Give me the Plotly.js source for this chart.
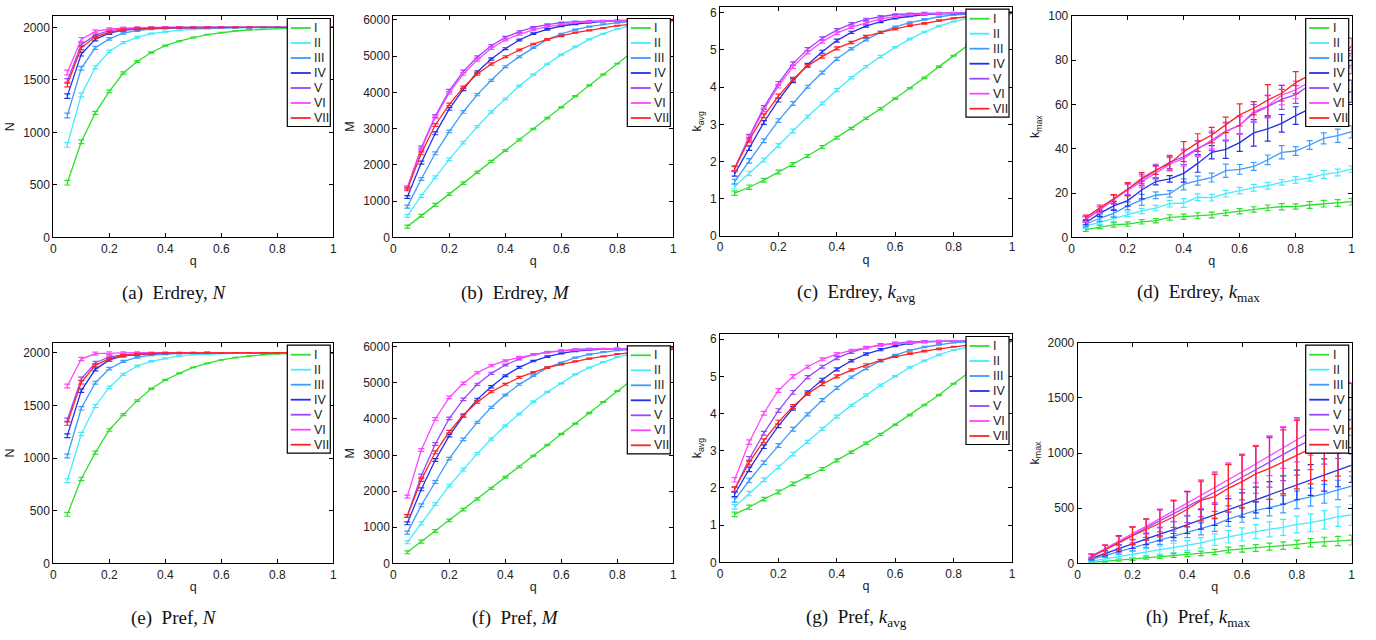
<!DOCTYPE html>
<html>
<head>
<meta charset="utf-8">
<script src="https://cdn.plot.ly/plotly-3.0.1.min.js"></script>
<style>html,body{margin:0;padding:0;background:#fff}#chart{width:1376px;height:640px}</style>
</head>
<body>
<div id="chart"></div>
<script>
// ---------------- DATA ----------------
const q = [0.05,0.1,0.15,0.2,0.25,0.3,0.35,0.4,0.45,0.5,0.55,0.6,0.65,0.7,0.75,0.8,0.85,0.9,0.95,1.0];
const seriesNames = ['I','II','III','IV','V','VI','VII'];
const seriesColors = ['#2ee02e','#45eaff','#3d9cff','#2230ea','#9a45ff','#ff45ff','#ff2424'];

// (a) Erdrey, N
const erdreyN = [
  [520,910,1185,1390,1565,1675,1760,1825,1868,1903,1930,1950,1965,1975,1983,1989,1993,1996,1998,2000],
  [880,1355,1620,1770,1855,1905,1940,1960,1973,1982,1988,1992,1995,1997,1998,1999,2000,2000,2000,2000],
  [1160,1610,1805,1890,1945,1970,1983,1990,1994,1996,1998,1999,2000,2000,2000,2000,2000,2000,2000,2000],
  [1345,1745,1885,1945,1973,1986,1993,1996,1998,1999,2000,2000,2000,2000,2000,2000,2000,2000,2000,2000],
  [1490,1835,1925,1968,1985,1993,1997,1999,2000,2000,2000,2000,2000,2000,2000,2000,2000,2000,2000,2000],
  [1570,1885,1962,1984,1993,1997,1999,2000,2000,2000,2000,2000,2000,2000,2000,2000,2000,2000,2000,2000],
  [1455,1805,1910,1952,1975,1987,1993,1996,1998,1999,2000,2000,2000,2000,2000,2000,2000,2000,2000,2000]
];
const errErdreyN = [22,18,14,12,10,8,6,5,4,3,3,2,2,2,1,1,1,1,1,1];

// (b) Erdrey, M
const erdreyM = [
  [295,595,895,1195,1495,1795,2095,2395,2690,2990,3290,3590,3895,4195,4495,4795,5095,5395,5695,5995],
  [589,1141,1656,2153,2613,3055,3460,3828,4178,4491,4785,5043,5264,5466,5622,5751,5850,5920,5965,5990],
  [847,1610,2319,2926,3460,3938,4334,4711,4988,5236,5466,5613,5733,5816,5880,5926,5955,5975,5988,5995],
  [1113,2061,2871,3543,4086,4564,4923,5208,5448,5622,5742,5834,5889,5935,5960,5975,5985,5992,5996,6000],
  [1371,2475,3350,4049,4583,4978,5291,5521,5678,5797,5871,5926,5954,5970,5980,5988,5993,5996,5998,6000],
  [1353,2429,3313,3994,4509,4895,5218,5448,5604,5724,5816,5880,5926,5954,5970,5982,5990,5995,5998,6000],
  [1325,2319,3101,3672,4141,4509,4785,4988,5172,5337,5466,5558,5650,5714,5779,5843,5880,5920,5960,6000]
];
const errErdreyM = [40,40,40,35,35,30,30,25,25,20,20,15,15,15,10,10,10,10,10,10];

// (c) Erdrey, k_avg
const erdreyKavg = [
  [1.15,1.31,1.50,1.72,1.92,2.15,2.39,2.64,2.89,3.16,3.42,3.69,3.97,4.25,4.55,4.84,5.13,5.43,5.72,6.0],
  [1.33,1.68,2.04,2.43,2.82,3.21,3.56,3.92,4.25,4.55,4.82,5.07,5.29,5.48,5.64,5.76,5.85,5.92,5.96,5.99],
  [1.46,2.02,2.56,3.10,3.56,4.01,4.39,4.76,5.03,5.27,5.47,5.62,5.73,5.82,5.89,5.94,5.96,5.98,5.99,6.0],
  [1.67,2.36,3.05,3.65,4.17,4.60,4.95,5.25,5.47,5.64,5.76,5.85,5.91,5.95,5.97,5.98,5.99,6.0,6.0,6.0],
  [1.82,2.67,3.45,4.10,4.63,5.02,5.31,5.53,5.70,5.82,5.89,5.95,5.97,5.985,5.99,5.995,6.0,6.0,6.0,6.0],
  [1.80,2.63,3.39,4.03,4.55,4.93,5.22,5.45,5.61,5.73,5.83,5.89,5.94,5.96,5.98,5.99,5.995,6.0,6.0,6.0],
  [1.82,2.58,3.23,3.76,4.21,4.57,4.82,5.04,5.20,5.36,5.47,5.56,5.65,5.71,5.79,5.85,5.89,5.93,5.96,6.0]
];
const errErdreyKavg = [0.06,0.06,0.05,0.05,0.05,0.04,0.04,0.04,0.03,0.03,0.03,0.02,0.02,0.02,0.02,0.01,0.01,0.01,0.01,0.01];

// (d) Erdrey, k_max
const erdreyKmax = [
  [3.5,4.7,5.6,6.0,7.0,7.5,9.0,9.3,9.8,10.1,11.0,11.8,12.6,13.3,13.8,13.9,14.6,15.2,15.5,16.1],
  [5.0,6.8,8.3,10.4,11.9,13.2,15.2,15.5,18.1,17.9,19.7,21.1,22.4,23.3,24.8,25.9,26.9,28.4,29.3,30.8],
  [5.9,8.6,10.8,14.2,16.9,19.0,19.6,23.9,25.6,27.0,30.1,30.7,32.0,35.0,38.4,39.0,41.7,44.7,45.9,47.7],
  [6.6,10.8,14.2,16.6,21.4,25.2,26.4,28.9,33.4,38.4,39.7,42.8,47.2,49.0,51.5,55.0,58.0,61.0,63.0,66.0],
  [8.1,12.3,17.0,21.8,26.0,30.0,34.0,36.4,40.2,43.2,47.7,50.8,56.0,59.0,62.3,64.5,68.8,71.0,74.0,78.0],
  [8.1,12.3,17.3,21.4,25.2,29.0,33.0,35.7,40.0,44.0,48.0,50.5,56.8,59.3,64.3,66.6,70.3,73.0,76.0,80.5],
  [9.0,13.1,17.3,21.7,26.7,30.4,33.4,38.7,42.8,46.2,50.8,55.3,58.3,62.0,65.1,69.9,73.3,76.5,80.0,86.5]
];
const errErdreyKmax = [
  [0.8,0.8,1,1,1,1,1.2,1.2,1.3,1.3,1.2,1.2,1.2,1.3,1.4,1.2,1.5,1.5,1.5,1.5],
  [1,1,1.2,1,1.2,1.2,1.5,2,1.5,1.5,1.5,1.5,1.5,1.5,1.2,1.5,1.5,1.8,1.5,1.5],
  [1.2,1.5,1.8,1.8,2.5,1.5,1.5,2.5,2,2,3,2.2,1.8,2.2,3,2,2,2.5,3,2.8],
  [1,1.5,2,2.5,4,1.5,1.5,4,4,3,4,4,6,5.5,4,4,4,4,4,5],
  [1.2,1.5,2,2.5,2.5,3,3,3.5,3.5,4,4,4,4,5,4.5,4,4,4,4,4],
  [1.2,1.5,2,2.5,2.5,3,3,3.5,3.5,4,4,4,4.5,5,4.5,4,4,4,4,4],
  [1,1.5,2,3,2.5,2,3,4.5,4,3.5,3.5,5,3,7,3.5,5,4,4,4,3.5]
];

// (e) Pref, N
const prefN = [
  [465,801,1051,1266,1412,1545,1658,1741,1804,1861,1899,1931,1953,1969,1981,1990,1995,1998,1999,2000],
  [785,1228,1494,1671,1795,1874,1918,1946,1969,1981,1987,1992,1995,1997,1998,1999,2000,2000,2000,2000],
  [1019,1472,1715,1848,1918,1956,1978,1987,1993,1996,1998,1999,2000,2000,2000,2000,2000,2000,2000,2000],
  [1212,1640,1842,1931,1969,1984,1992,1996,1998,1999,2000,2000,2000,2000,2000,2000,2000,2000,2000,2000],
  [1361,1753,1905,1959,1981,1991,1996,1998,1999,2000,2000,2000,2000,2000,2000,2000,2000,2000,2000,2000],
  [1684,1940,1991,1997,1999,2000,2000,2000,2000,2000,2000,2000,2000,2000,2000,2000,2000,2000,2000,2000],
  [1329,1719,1880,1943,1972,1986,1993,1997,1998,1999,2000,2000,2000,2000,2000,2000,2000,2000,2000,2000]
];
const errPrefN = [18,16,14,12,10,8,6,5,4,3,3,2,2,2,1,1,1,1,1,1];

// (f) Pref, M
const prefM = [
  [305,600,895,1191,1486,1782,2077,2382,2677,2972,3277,3582,3868,4163,4468,4772,5068,5370,5660,5950],
  [582,1108,1643,2151,2594,3037,3443,3812,4135,4477,4745,4985,5234,5419,5575,5714,5800,5860,5910,5945],
  [849,1606,2252,2899,3434,3905,4320,4662,4957,5197,5419,5557,5696,5788,5852,5899,5920,5935,5945,5950],
  [1108,2049,2862,3535,4080,4542,4892,5197,5428,5603,5723,5815,5880,5917,5935,5945,5950,5952,5954,5955],
  [1311,2428,3305,4015,4542,4957,5262,5492,5659,5779,5852,5899,5926,5940,5947,5951,5953,5954,5955,5955],
  [1846,3139,3997,4597,4985,5280,5474,5612,5705,5779,5843,5880,5908,5925,5938,5945,5950,5953,5954,5955],
  [1311,2308,3074,3646,4108,4468,4754,4957,5151,5289,5419,5511,5594,5668,5732,5797,5843,5880,5920,5955]
];
const errPrefM = [40,40,40,35,35,30,30,25,25,20,20,15,15,15,10,10,10,10,10,10];

// (g) Pref, k_avg
const prefKavg = [
  [1.29,1.48,1.70,1.89,2.11,2.31,2.51,2.74,2.96,3.20,3.44,3.70,3.96,4.23,4.50,4.80,5.09,5.39,5.68,5.95],
  [1.49,1.85,2.22,2.56,2.91,3.24,3.59,3.92,4.22,4.50,4.76,5.00,5.24,5.42,5.58,5.71,5.80,5.87,5.91,5.94],
  [1.68,2.20,2.68,3.14,3.58,3.98,4.36,4.69,4.98,5.21,5.42,5.57,5.70,5.79,5.86,5.91,5.93,5.94,5.95,5.95],
  [1.83,2.50,3.11,3.67,4.14,4.57,4.91,5.19,5.42,5.60,5.72,5.82,5.89,5.93,5.94,5.95,5.95,5.95,5.95,5.95],
  [1.96,2.78,3.47,4.08,4.57,4.98,5.26,5.49,5.65,5.77,5.85,5.90,5.93,5.94,5.95,5.95,5.95,5.95,5.95,5.95],
  [2.22,3.23,4.01,4.62,5.00,5.26,5.46,5.60,5.70,5.78,5.84,5.88,5.91,5.93,5.94,5.95,5.95,5.95,5.95,5.95],
  [1.97,2.68,3.27,3.77,4.19,4.53,4.79,5.00,5.17,5.31,5.43,5.53,5.61,5.68,5.74,5.80,5.84,5.88,5.92,5.95]
];
const errPrefKavg = [0.06,0.06,0.05,0.05,0.05,0.04,0.04,0.04,0.03,0.03,0.03,0.02,0.02,0.02,0.02,0.01,0.01,0.01,0.01,0.01];

// (h) Pref, k_max
const prefKmax = [
  [8,18,28,38,50,60,70,80,90,102,120,130,139,151,160,172,187,196,202,211],
  [20,40,60,80,100,120,140,160,185,215,240,262,287,308,326,352,368,393,423,438],
  [35,70,105,140,178,212,248,282,312,350,400,440,480,505,535,575,600,630,665,700],
  [45,90,135,176,222,265,305,350,398,440,483,528,574,619,665,710,755,800,846,891],
  [60,125,190,255,320,385,445,510,580,645,710,780,850,920,990,1055,1120,1185,1250,1310],
  [65,135,205,270,335,405,475,545,620,690,760,830,900,975,1050,1120,1190,1260,1330,1400],
  [60,120,185,250,305,365,420,490,570,605,680,740,810,860,920,985,1040,1090,1150,1230]
];
const errPrefKmax = [
  [5,7,9,11,13,15,17,19,21,24,26,28,30,32,34,36,38,40,42,45],
  [10,15,22,28,33,38,42,45,48,52,56,60,64,68,72,76,80,84,88,95],
  [10,16,22,28,34,40,45,50,55,60,64,68,72,75,78,80,82,85,88,90],
  [12,22,32,42,52,62,72,80,88,96,104,110,116,122,128,134,140,146,152,158],
  [20,40,55,70,85,100,120,140,160,175,190,205,215,230,240,255,270,285,300,320],
  [15,30,45,60,70,85,95,110,125,140,150,160,170,180,190,200,210,220,230,240],
  [25,45,65,80,95,125,150,160,185,200,215,240,250,280,290,310,320,340,360,400]
];

const xTicks = [0,0.2,0.4,0.6,0.8,1];
const xTickText = ['0','0.2','0.4','0.6','0.8','1'];
const yTicksN = [0,500,1000,1500,2000];
const yTicksM = [0,1000,2000,3000,4000,5000,6000];
const yTicksK = [0,1,2,3,4,5,6];
const yTicksKmaxE = [0,20,40,60,80,100];
const yTicksKmaxP = [0,500,1000,1500,2000];
const captions = [
  '(a)  Erdrey, <i>N</i>','(b)  Erdrey, <i>M</i>','(c)  Erdrey, <i>k</i><sub>avg</sub>','(d)  Erdrey, <i>k</i><sub>max</sub>',
  '(e)  Pref, <i>N</i>','(f)  Pref, <i>M</i>','(g)  Pref, <i>k</i><sub>avg</sub>','(h)  Pref, <i>k</i><sub>max</sub>'
];

// ---------------- LAYOUT / BUILD ----------------
const W = 1376, H = 640;
const panels = [
  {vals: erdreyN,    err: errErdreyN,    range:[0,2108], ticks:yTicksN,     ytitle:'N', box:[53.3,333.3,16,237.3]},
  {vals: erdreyM,    err: errErdreyM,    range:[0,6110], ticks:yTicksM,     ytitle:'M', box:[393.3,673.3,16,237.3]},
  {vals: erdreyKavg, err: errErdreyKavg, range:[0,6.16], ticks:yTicksK,     ytitle:'k<sub>avg</sub>', box:[720,1012,6.7,236]},
  {vals: erdreyKmax, err: errErdreyKmax, range:[0,100],  ticks:yTicksKmaxE, ytitle:'k<sub>max</sub>', box:[1071.7,1351.7,16,237.3]},
  {vals: prefN,      err: errPrefN,      range:[0,2095], ticks:yTicksN,     ytitle:'N', box:[53.3,333.3,342.7,563.3]},
  {vals: prefM,      err: errPrefM,      range:[0,6094], ticks:yTicksM,     ytitle:'M', box:[393.3,673.3,343.3,563.3]},
  {vals: prefKavg,   err: errPrefKavg,   range:[0,6.14], ticks:yTicksK,     ytitle:'k<sub>avg</sub>', box:[720,1012,334,562.3]},
  {vals: prefKmax,   err: errPrefKmax,   range:[0,2000], ticks:yTicksKmaxP, ytitle:'k<sub>max</sub>', box:[1077.7,1351.7,342.7,563.3]}
];
const capCenters = [174,515,856,1198];
const capRowY = [293,618];

const sansFamily = 'Liberation Sans, Arial, sans-serif';
const tickFont = {family: sansFamily, size:12, color:'#222'};
const titleFont = {family: sansFamily, size:12.5, color:'#222'};
const traces = [];
const layout = {
  width: W, height: H,
  margin: {l:0,r:0,t:0,b:0},
  paper_bgcolor:'#fff', plot_bgcolor:'#fff',
  showlegend:false,
  font:{family: sansFamily, size:12, color:'#222'},
  annotations: [], shapes: []
};
const px = x => x / W;
const py = y => (H - y) / H;

panels.forEach((p, k) => {
  const n = k + 1;
  const xa = 'xaxis' + (n === 1 ? '' : n), ya = 'yaxis' + (n === 1 ? '' : n);
  const xr = 'x' + (n === 1 ? '' : n), yr = 'y' + (n === 1 ? '' : n);
  const [L, R, T, B] = p.box;
  layout[xa] = {
    domain:[px(L), px(R)], anchor: yr, range:[0,1],
    tickvals: xTicks, ticktext: xTickText, ticks:'inside', ticklen:4, tickcolor:'#000',
    showline:true, linecolor:'#000', linewidth:1, mirror:'ticks',
    showgrid:false, zeroline:false, tickfont: tickFont,
    title:{text:'q', font: titleFont, standoff:1}
  };
  layout[ya] = {
    domain:[py(B), py(T)], anchor: xr, range: p.range,
    tickvals: p.ticks, ticks:'inside', ticklen:4, tickcolor:'#000',
    showline:true, linecolor:'#000', linewidth:1, mirror:'ticks',
    showgrid:false, zeroline:false, tickfont: tickFont,
    title:{text:p.ytitle, font: titleFont, standoff:5}
  };
  p.vals.forEach((vals, s) => {
    const e = Array.isArray(p.err[0]) ? p.err[s] : p.err;
    traces.push({
      x: q, y: vals, type:'scatter', mode:'lines', name: seriesNames[s],
      xaxis: xr, yaxis: yr, showlegend:false, hoverinfo:'skip',
      line:{color: seriesColors[s], width:1.3},
      error_y:{type:'data', array:e, visible:true, color: seriesColors[s], thickness:1.2, width:3}
    });
  });
  // per-panel legend box
  const lw = 43, lh = 108;
  const lx1 = R - 3, lx0 = lx1 - lw, ly0 = T + 2.5, ly1 = ly0 + lh;
  layout.shapes.push({type:'rect', xref:'paper', yref:'paper', x0:px(lx0), x1:px(lx1), y0:py(ly1), y1:py(ly0),
    line:{color:'#000', width:1.2}, fillcolor:'#fff', layer:'above'});
  seriesNames.forEach((nm, s) => {
    const yy = ly0 + 9.5 + s * 15;
    layout.shapes.push({type:'line', xref:'paper', yref:'paper', x0:px(lx0+3.5), x1:px(lx0+23.5), y0:py(yy), y1:py(yy),
      line:{color: seriesColors[s], width:1.8}, layer:'above'});
    layout.annotations.push({xref:'paper', yref:'paper', x:px(lx0+25), y:py(yy), xanchor:'left', yanchor:'middle',
      text:nm, showarrow:false, font:{family: sansFamily, size:12.5, color:'#222'}});
  });
  // caption
  layout.annotations.push({xref:'paper', yref:'paper', x: px(capCenters[k % 4]), y: py(capRowY[Math.floor(k/4)]),
    xanchor:'center', yanchor:'middle', showarrow:false, text: captions[k],
    font:{family:'Liberation Serif, Times New Roman, serif', size:19, color:'#111'}});
});

Plotly.newPlot('chart', traces, layout, {staticPlot:true, displayModeBar:false});
</script>
</body>
</html>
